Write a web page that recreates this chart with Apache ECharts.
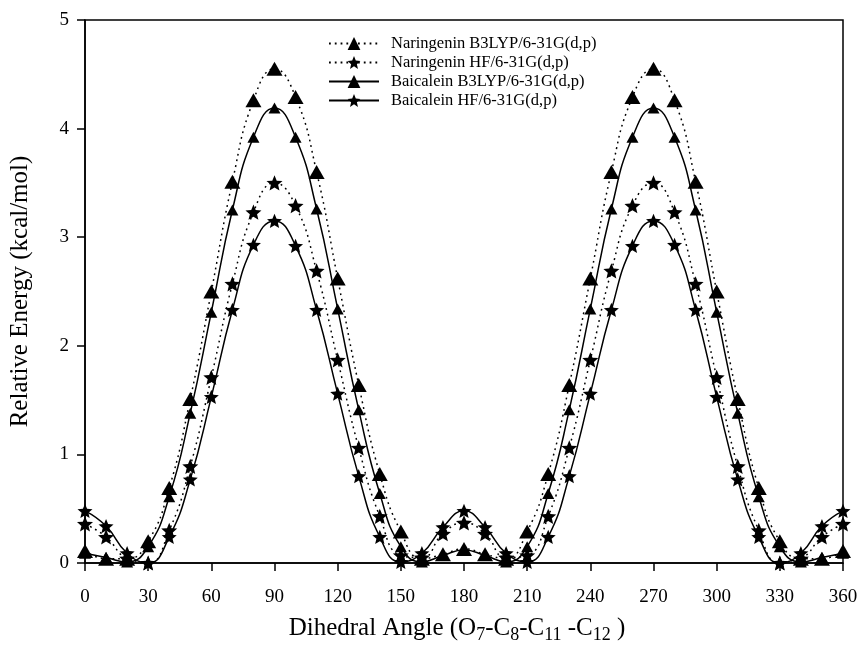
<!DOCTYPE html>
<html>
<head>
<meta charset="utf-8">
<script src="https://cdn.jsdelivr.net/npm/echarts@6/dist/echarts.min.js"></script>
<style>
  html, body { margin: 0; padding: 0; background: #fff; }
  #chart { width: 862px; height: 657px; }
</style>
</head>
<body>
<div id="chart"></div>
<script>
// dihedral angle, 10 degree steps
const angles = [0, 10, 20, 30, 40, 50, 60, 70, 80, 90, 100, 110, 120, 130, 140, 150, 160, 170, 180,
  190, 200, 210, 220, 230, 240, 250, 260, 270, 280, 290, 300, 310, 320, 330, 340, 350, 360];

const naringeninB3lyp = [0.11, 0.04, 0.04, 0.20, 0.69, 1.51, 2.50, 3.51, 4.26, 4.55, 4.29, 3.60, 2.62, 1.64, 0.82, 0.29, 0.04, 0.08, 0.13,
  0.08, 0.04, 0.29, 0.82, 1.64, 2.62, 3.60, 4.29, 4.55, 4.26, 3.51, 2.50, 1.51, 0.69, 0.20, 0.04, 0.04, 0.11];
const naringeninHf = [0.36, 0.24, 0.04, 0.00, 0.30, 0.89, 1.71, 2.57, 3.23, 3.50, 3.29, 2.69, 1.87, 1.06, 0.43, 0.07, 0.05, 0.27, 0.37,
  0.27, 0.05, 0.07, 0.43, 1.06, 1.87, 2.69, 3.29, 3.50, 3.23, 2.57, 1.71, 0.89, 0.30, 0.00, 0.04, 0.24, 0.36];
const baicaleinB3lyp = [0.09, 0.05, 0.01, 0.15, 0.61, 1.38, 2.31, 3.25, 3.92, 4.19, 3.92, 3.26, 2.34, 1.41, 0.64, 0.15, 0.01, 0.07, 0.12,
  0.07, 0.01, 0.15, 0.64, 1.41, 2.34, 3.26, 3.92, 4.19, 3.92, 3.25, 2.31, 1.38, 0.61, 0.15, 0.01, 0.05, 0.09];
const baicaleinHf = [0.48, 0.34, 0.09, 0.00, 0.24, 0.77, 1.53, 2.33, 2.93, 3.15, 2.92, 2.33, 1.56, 0.80, 0.24, 0.01, 0.09, 0.33, 0.48,
  0.33, 0.09, 0.01, 0.24, 0.80, 1.56, 2.33, 2.92, 3.15, 2.93, 2.33, 1.53, 0.77, 0.24, 0.00, 0.09, 0.34, 0.48];

const seriesNames = [
  "Naringenin B3LYP/6-31G(d,p)",
  "Naringenin HF/6-31G(d,p)",
  "Baicalein B3LYP/6-31G(d,p)",
  "Baicalein HF/6-31G(d,p)",
];

const FONT = "'Liberation Serif', 'Times New Roman', serif";
const STAR = "path://M0,-10 L2.65,-3.64 L9.51,-3.09 L4.28,1.39 L5.88,8.09 L0,4.5 L-5.88,8.09 L-4.28,1.39 L-9.51,-3.09 L-2.65,-3.64 Z";
const DOTS = [1.8, 4];

const pairs = (ys) => angles.map((a, i) => [a, ys[i]]);

const makeSeries = (name, ys, symbol, size, dashed) => ({
  name: name,
  type: "line",
  data: pairs(ys),
  smooth: 0.5,
  symbol: symbol,
  symbolSize: size,
  symbolKeepAspect: true,
  showAllSymbol: true,
  itemStyle: { color: "#000", borderWidth: 0 },
  lineStyle: { color: "#000", width: 1.5, type: dashed ? DOTS : "solid" },
  z: dashed ? 2 : 3,
});

const chart = echarts.init(document.getElementById("chart"));
chart.setOption({
  animation: false,
  backgroundColor: "#fff",
  textStyle: { fontFamily: FONT, color: "#000" },
  grid: {
    left: 85, right: 19, top: 20, bottom: 94,
    show: true, borderColor: "#000", borderWidth: 1.5,
  },
  legend: {
    orient: "vertical",
    left: 323,
    top: 30,
    itemWidth: 50,
    itemHeight: 16,
    itemGap: 2,
    data: seriesNames,
    textStyle: { fontFamily: FONT, fontSize: 16.5, color: "#000", padding: [0, 0, 0, 7] },
  },
  xAxis: {
    type: "value",
    min: 0, max: 360, interval: 30,
    name: "Dihedral Angle (O{s|7}-C{s|8}-C{s|11} -C{s|12} )",
    nameLocation: "middle",
    nameGap: 50,
    nameTextStyle: {
      fontFamily: FONT, fontSize: 25, color: "#000",
      padding: [0, 14, 0, 0],
      rich: {
        s: { fontFamily: FONT, fontSize: 18, color: "#000", padding: [13, 0, 0, 0] },
      },
    },
    axisLine: { show: true, lineStyle: { color: "#000", width: 1.5 } },
    axisTick: { show: true, inside: false, length: 8, lineStyle: { color: "#000", width: 1.5 } },
    axisLabel: { margin: 25, fontFamily: FONT, fontSize: 19, color: "#000" },
    splitLine: { show: false },
  },
  yAxis: {
    type: "value",
    min: 0, max: 5, interval: 1,
    name: "Relative Energy (kcal/mol)",
    nameLocation: "middle",
    nameGap: 52,
    nameTextStyle: { fontFamily: FONT, fontSize: 25, color: "#000" },
    axisLine: { show: true, lineStyle: { color: "#000", width: 1.5 } },
    axisTick: { show: true, inside: false, length: 8, lineStyle: { color: "#000", width: 1.5 } },
    axisLabel: { margin: 16, fontFamily: FONT, fontSize: 19, color: "#000" },
    splitLine: { show: false },
  },
  series: [
    makeSeries(seriesNames[0], naringeninB3lyp, "triangle", [16, 14], true),
    makeSeries(seriesNames[1], naringeninHf, STAR, 16, true),
    makeSeries(seriesNames[2], baicaleinB3lyp, "triangle", [12, 11], false),
    makeSeries(seriesNames[3], baicaleinHf, STAR, 15, false),
  ],
});
</script>
</body>
</html>
